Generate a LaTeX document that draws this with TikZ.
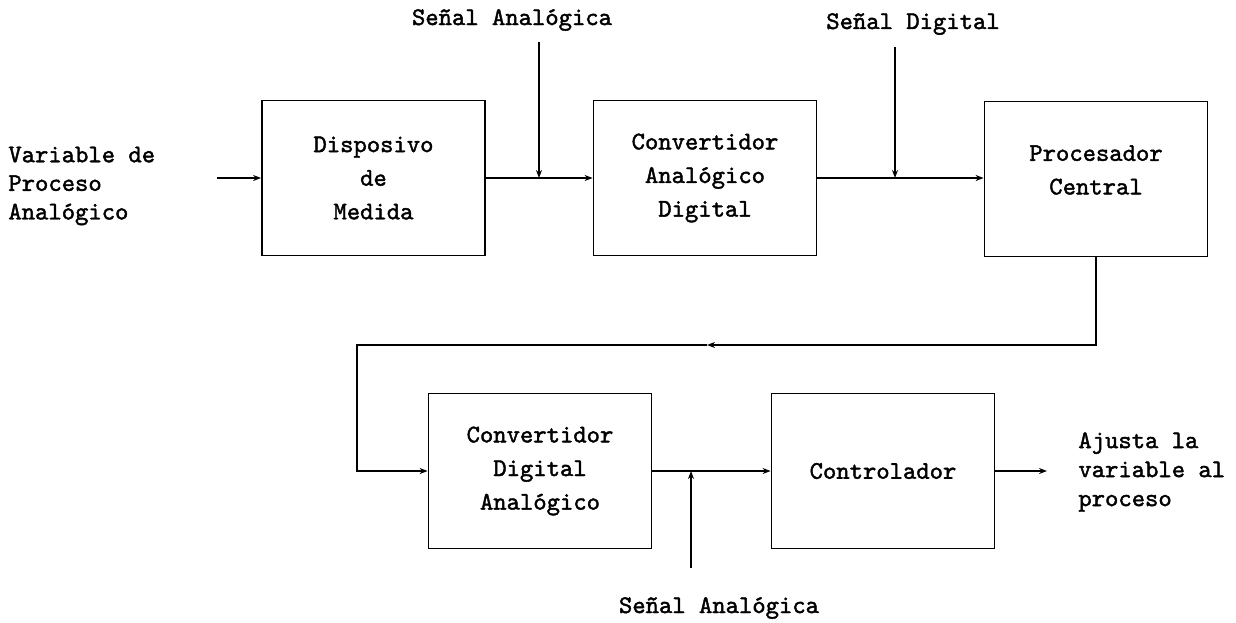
\documentclass[tikz,border=0pt]{standalone}
\usepackage{fontspec}
\setmonofont[FakeBold=1.6]{lmmono10-regular.otf}
\usetikzlibrary{arrows.meta}
\begin{document}
\begin{tikzpicture}[x=0.5pt,y=-0.5pt,
  every node/.style={font=\ttfamily\fontsize{12.7}{16.8}\selectfont, inner sep=0pt},
  block/.style={draw, line width=0.9pt, minimum width=111.5pt, minimum height=77.5pt, align=center},
  wire/.style={line width=0.9pt},
  arr/.style={wire, -{Stealth[length=4pt,width=3pt]}},
  lbl/.style={align=left, anchor=west}]
\useasboundingbox (0,0) rectangle (1236,622);

% blocks of the acquisition chain
\node[block] (d1) at (373.5,178) {Disposivo\\de\\Medida};
\node[block] (d2) at (705,178) {Convertidor\\Analógico\\Digital};
\node[block] (d3) at (1096,179) {};
\node at (1096,170) [align=center] {Procesador\\Central};
\node[block] (d4) at (540,471) {Convertidor\\Digital\\Analógico};
\node[block] (d5) at (883,471) {Controlador};

% free labels
\node[lbl, font=\ttfamily\fontsize{12.7}{14.3}\selectfont] (vin) at (8,186) {Variable de\\Proceso\\Analógico};
\node[lbl, font=\ttfamily\fontsize{12.7}{14.5}\selectfont] (vout) at (1078,472) {Ajusta la\\variable al\\proceso};
\node (s1) at (512,20) {Señal Analógica};
\node (s2) at (913,24) {Señal Digital};
\node (s3) at (719,608) {Señal Analógica};

% free ends of the connectors
\coordinate (in) at (217,178);
\coordinate (out) at (1047,471);
\coordinate (t1) at (539,42);
\coordinate (t2) at (895,47);
\coordinate (t3) at (691,568);
\coordinate (fbm) at (707,345);
\coordinate (fbl) at (357,345);

% connectors
\draw[arr] (in) -- (d1.west);
\draw[arr] (d1.east) -- (d2.west);
\draw[arr] (t1) -- (t1 |- d1.east);
\draw[arr] (d2.east) -- (d2.east -| d3.west);
\draw[arr] (t2) -- (t2 |- d2.east);
\draw[arr] (d3.south) |- (fbm);
\draw[arr] (fbm) -- (fbl) |- (d4.west);
\draw[arr] (d4.east) -- (d5.west);
\draw[arr] (t3) -- (t3 |- d4.east);
\draw[arr] (d5.east) -- (out);
\end{tikzpicture}
\end{document}
